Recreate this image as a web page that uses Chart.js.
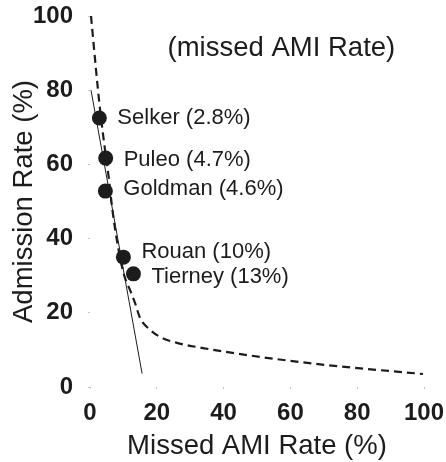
<!DOCTYPE html>
<html>
<head>
<meta charset="utf-8">
<script src="https://cdn.jsdelivr.net/npm/chart.js@4/dist/chart.umd.min.js"></script>
<style>
  html, body { margin: 0; padding: 0; background: #fff; }
  #wrap { width: 446px; height: 462px; }
</style>
</head>
<body>
<div id="wrap"><canvas id="admission-chart"></canvas></div>
<script>
// studies: missed AMI rate (x) vs admission rate (y)
const studyNames = ['Selker', 'Puleo', 'Goldman', 'Rouan', 'Tierney'];
const missedRates = [2.8, 4.7, 4.6, 10, 13];
const admissionRates = [72.5, 61.7, 52.8, 35.0, 30.5];
const rateLabels = ['2.8%', '4.7%', '4.6%', '10%', '13%'];

// dashed trade-off curve
const curveX = [0.3, 2.4, 3.3, 4.5, 5.7, 6.6, 8.4, 10.2, 12, 13.5, 15, 18, 21, 26, 33.8, 51, 71, 99.7];
const curveY = [100, 80, 72.5, 63.9, 55.8, 48.5, 37.7, 30.2, 26.1, 22.6, 18.6, 15.4, 13.5, 11.9, 10.5, 8.1, 5.9, 3.5];

// solid fitted line
const fitX = [0.3, 15.6];
const fitY = [80, 3.6];

const axisTicks = [0, 20, 40, 60, 80, 100];
const noteText = '(missed AMI Rate)';
const notePos = [57.3, 91.2];

// small vertical nudges for the study labels (px)
const labelNudge = [0, 2, -2, -5, 3];

const toPoints = (xs, ys) => xs.map((x, i) => ({ x: x, y: ys[i] }));

const ink = '#1c1c1c';
const family = '"Liberation Sans", Arial, sans-serif';

const studyLabels = {
    id: 'studyLabels',
    afterDatasetsDraw(chart) {
        const ctx = chart.ctx;
        const meta = chart.getDatasetMeta(0);
        ctx.save();
        ctx.fillStyle = ink;
        ctx.font = '22px ' + family;
        ctx.textAlign = 'left';
        ctx.textBaseline = 'middle';
        meta.data.forEach((pt, i) => {
            ctx.fillText(studyNames[i] + ' (' + rateLabels[i] + ')', pt.x + 18, pt.y + labelNudge[i]);
        });
        const xs = chart.scales.x, ys = chart.scales.y;
        ctx.font = '27.5px ' + family;
        ctx.textAlign = 'center';
        ctx.fillText(noteText, xs.getPixelForValue(notePos[0]), ys.getPixelForValue(notePos[1]));
        ctx.restore();
    }
};

const tickFont = { family: family, size: 24, weight: 'bold', lineHeight: 1.2 };
const titleFont = { family: family, size: 27.5, lineHeight: 1 };

const chartConfig = {
    type: 'scatter',
    data: {
        datasets: [{
            label: 'Studies',
            data: toPoints(missedRates, admissionRates),
            pointRadius: 7.5,
            pointHoverRadius: 7.5,
            backgroundColor: ink,
            borderColor: ink,
            borderWidth: 0
        }, {
            label: 'Curve',
            data: toPoints(curveX, curveY),
            showLine: true,
            pointRadius: 0,
            borderColor: ink,
            borderWidth: 2.2,
            borderDash: [8, 5],
            cubicInterpolationMode: 'monotone'
        }, {
            label: 'Fit',
            data: toPoints(fitX, fitY),
            showLine: true,
            pointRadius: 0,
            borderColor: ink,
            borderWidth: 1
        }]
    },
    options: {
        responsive: true,
        maintainAspectRatio: false,
        animation: false,
        events: [],
        layout: { padding: { left: 0, right: 22, top: 16, bottom: 0 } },
        plugins: {
            legend: { display: false },
            tooltip: { enabled: false }
        },
        scales: {
            x: {
                type: 'linear',
                min: 0,
                max: 100,
                afterBuildTicks: s => { s.ticks = axisTicks.map(v => ({ value: v })); },
                // fixed band under the plot; tick labels may overhang the sides
                afterFit: s => { s.height = 75; s.paddingLeft = 0; s.paddingRight = 0; },
                border: { display: false },
                grid: { drawOnChartArea: false, drawTicks: true, tickLength: 2, color: '#c8c8c8' },
                ticks: { color: ink, font: tickFont, padding: 10, maxRotation: 0 },
                title: { display: true, text: 'Missed AMI Rate (%)', color: ink, font: titleFont, padding: { top: 0, bottom: 2 } }
            },
            y: {
                type: 'linear',
                min: 0,
                max: 100,
                afterBuildTicks: s => { s.ticks = axisTicks.map(v => ({ value: v })); },
                afterFit: s => { s.width = 90; s.paddingTop = 0; s.paddingBottom = 0; },
                border: { display: false },
                grid: { drawOnChartArea: false, drawTicks: true, tickLength: 2, color: '#c8c8c8' },
                ticks: { color: ink, font: tickFont, padding: 15 },
                title: { display: true, text: 'Admission Rate (%)', color: ink, font: titleFont, padding: { top: 11, bottom: 0 } }
            }
        }
    },
    plugins: [studyLabels]
};

const ctx = document.getElementById('admission-chart').getContext('2d');
new Chart(ctx, chartConfig);
</script>
</body>
</html>
